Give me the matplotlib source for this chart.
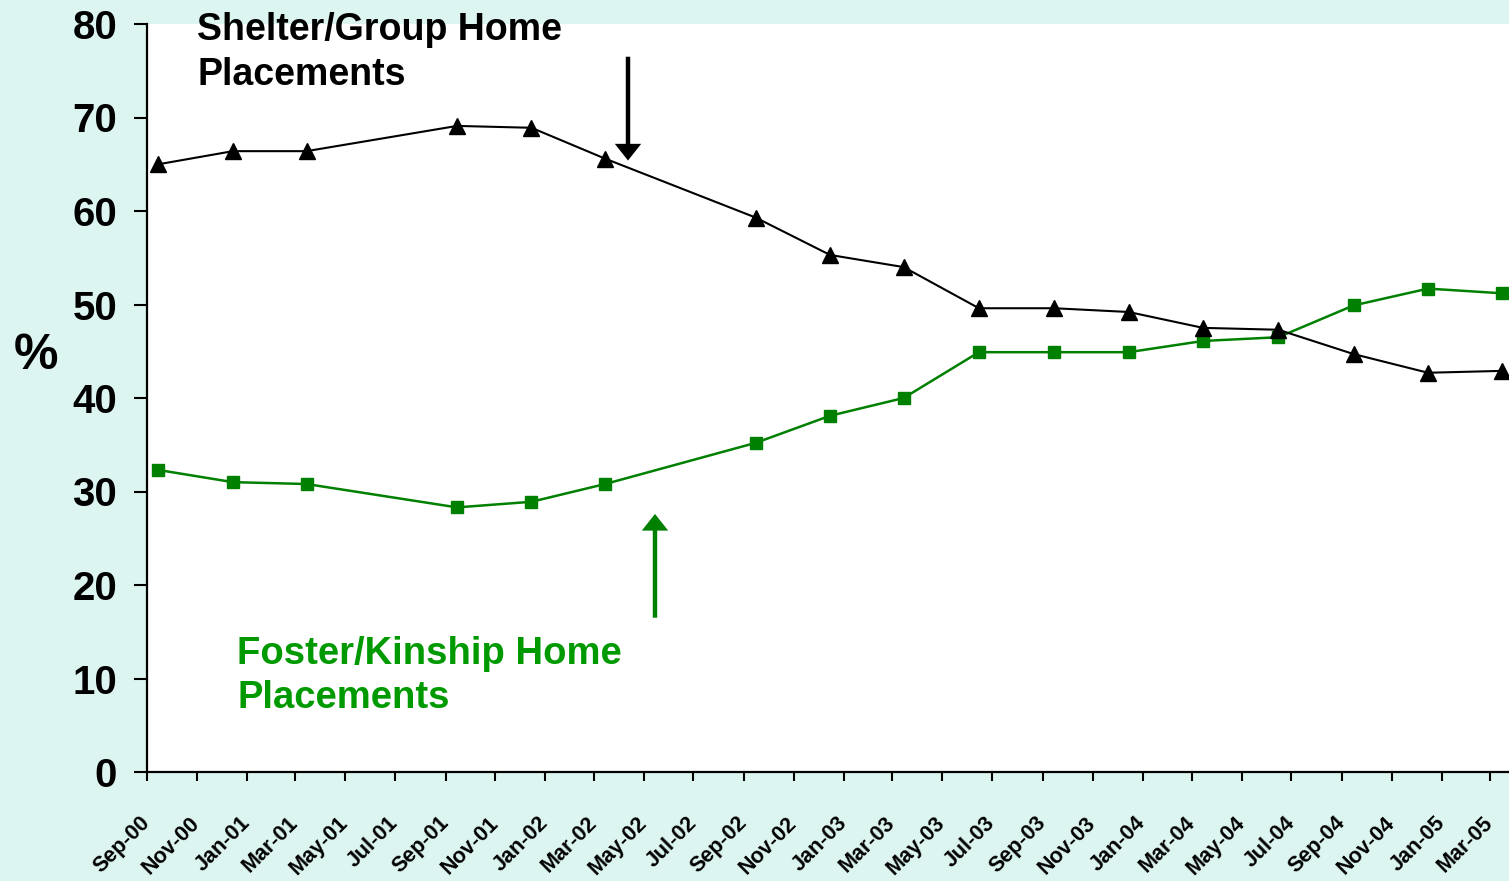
"""Shelter/group vs foster/kinship home placements, Sep-00 to Mar-05."""
import matplotlib
matplotlib.use("Agg")
import matplotlib.dates as mdates
import matplotlib.pyplot as plt
import pandas as pd

plt.rcParams["font.family"] = ["Liberation Sans", "DejaVu Sans"]
plt.rcParams["font.weight"] = "bold"

# quarterly observations (mid-month)
dates = pd.to_datetime([
    "2000-09-15", "2000-12-15", "2001-03-15", "2001-09-15", "2001-12-15",
    "2002-03-15", "2002-09-15", "2002-12-15", "2003-03-15", "2003-06-15",
    "2003-09-15", "2003-12-15", "2004-03-15", "2004-06-15", "2004-09-15",
    "2004-12-15", "2005-03-15",
])
shelter = [65.0, 66.4, 66.4, 69.1, 68.9, 65.6, 59.3, 55.3, 54.0, 49.6,
           49.6, 49.2, 47.5, 47.3, 44.7, 42.7, 42.9]
foster = [32.3, 31.0, 30.8, 28.3, 28.9, 30.8, 35.2, 38.1, 40.0, 44.9,
          44.9, 44.9, 46.1, 46.5, 49.9, 51.7, 51.2]

y_ticks = [0, 10, 20, 30, 40, 50, 60, 70, 80]
x_start, x_end = pd.Timestamp("2000-09-01"), pd.Timestamp("2005-03-24")

# annotation arrows: (x, y_tail, y_tip)
shelter_arrow = (pd.Timestamp("2002-04-12"), 76.5, 65.4)
foster_arrow = (pd.Timestamp("2002-05-15"), 16.5, 27.6)

BG = "#DDF5F0"
GREEN = "#008000"
GREEN_TXT = "#009A00"

fig = plt.figure(figsize=(15.09, 8.81), dpi=100, facecolor=BG)
ax = fig.add_axes([147 / 1509, 1 - 772 / 881, 1 - 147 / 1509, (772 - 24) / 881])
ax.set_facecolor("white")

ax.plot(dates, foster, color=GREEN, lw=1.8, marker="s", ms=9,
        mec=GREEN, mfc=GREEN, zorder=3)
ax.plot(dates, shelter, color="black", lw=1.5, marker="^", ms=11.5,
        mec="black", mfc="black", zorder=4)

for (x, y0, y1), col in ((shelter_arrow, "black"), (foster_arrow, GREEN)):
    ax.annotate("", xy=(x, y1), xytext=(x, y0),
                arrowprops=dict(width=3.2, headwidth=19, headlength=12,
                                shrink=0, color=col, lw=0))

ax.set_xlim(x_start, x_end)
ax.set_ylim(0, 80)
ax.set_yticks(y_ticks)
ax.xaxis.set_major_locator(mdates.MonthLocator(bymonth=(1, 3, 5, 7, 9, 11)))
ax.xaxis.set_major_formatter(mdates.DateFormatter("%b-%y"))

for side in ("top", "right"):
    ax.spines[side].set_visible(False)
for side in ("left", "bottom"):
    ax.spines[side].set_linewidth(1.6)

ax.tick_params(axis="y", direction="out", length=9.5, width=1.5, pad=12,
               labelsize=29)
ax.tick_params(axis="x", direction="out", length=6.5, width=1.5, pad=28,
               labelsize=15.5)
for lab in ax.get_xticklabels():
    lab.set_rotation(45)
    lab.set_ha("right")
    lab.set_va("center")
    lab.set_rotation_mode("anchor")
    lab.set_fontweight("bold")
for lab in ax.get_yticklabels():
    lab.set_fontweight("bold")

ax.set_ylabel("%", rotation=0, fontsize=36, fontweight="bold", va="center",
              ha="center")
ax.yaxis.set_label_coords(-0.0815, 0.556)

fig.text(197 / 1509, 1 - 12 / 881, "Shelter/Group Home\nPlacements",
         fontsize=27, fontweight="bold", color="black", va="top", ha="left",
         linespacing=1.32)
fig.text(237 / 1509, 1 - 636 / 881, "Foster/Kinship Home\nPlacements",
         fontsize=27.5, fontweight="bold", color=GREEN_TXT, va="top",
         ha="left", linespacing=1.3)

fig.savefig("out.png", dpi=100, facecolor=BG)
